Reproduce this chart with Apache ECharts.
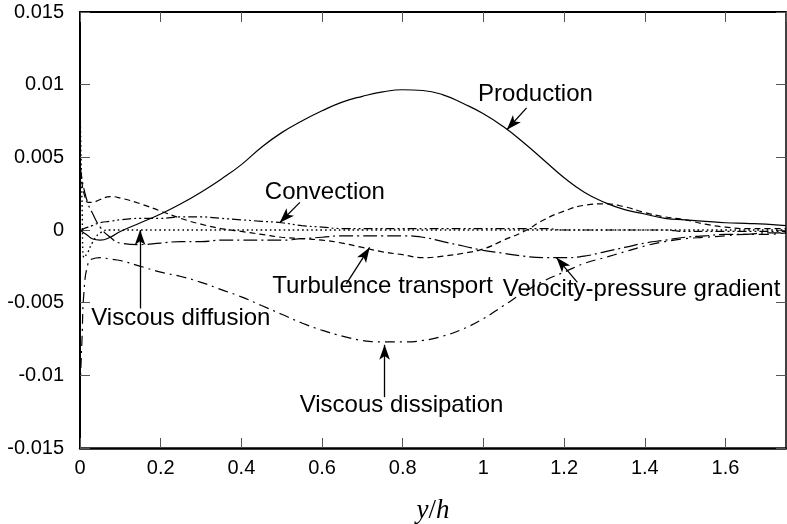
<!DOCTYPE html>
<html>
<head>
<meta charset="utf-8">
<script src="https://cdn.jsdelivr.net/npm/echarts@6/dist/echarts.min.js"></script>
<style>
  html, body { margin: 0; padding: 0; background: #fff; }
  #chart { width: 787px; height: 524px; }
</style>
</head>
<body>
<div id="chart"></div>
<script>
// wall distance y/h (shared by all budget terms)
const yh = [0, 0.005, 0.01, 0.02, 0.03, 0.05, 0.075,
  0.1, 0.15, 0.2, 0.25, 0.3, 0.35, 0.4, 0.45, 0.5, 0.55, 0.6, 0.65, 0.7, 0.75,
  0.8, 0.85, 0.9, 0.95, 1.0, 1.05, 1.1, 1.15, 1.2, 1.25, 1.3, 1.35, 1.4, 1.45,
  1.5, 1.55, 1.6, 1.65, 1.7, 1.75];

// budget terms
const production = [0, -0.0001, -0.0002, -0.0004, -0.0006, -0.0007, -0.0005,
  -0.0001, 0.0005, 0.0011, 0.0018, 0.0026, 0.0035, 0.0045, 0.0057, 0.0067, 0.0075, 0.0082, 0.0088, 0.0092, 0.0095,
  0.00965, 0.0096, 0.0093, 0.0087, 0.0080, 0.0071, 0.0060, 0.0048, 0.0036, 0.0026, 0.0019, 0.0014, 0.0011, 0.0008,
  0.0007, 0.0006, 0.0005, 0.00045, 0.0004, 0.0003];
const convection = [0, 0, 0.0001, 0.0002, 0.0003, 0.0005, 0.0006,
  0.0007, 0.0008, 0.0008, 0.0009, 0.0009, 0.0008, 0.0007, 0.0006, 0.0005, 0.0003, 0.0002, 0.0001, 0.0001, 0.0001,
  0.0001, 0.0001, 0.0001, 0.0001, 0.0001, 0.0001, 0.0001, 0.0001, 0, 0, 0, 0, 0, 0,
  -0.0001, -0.0001, -0.0001, -0.0001, -0.0001, -0.0001];
const turbTransport = [0.004, 0.0032, 0.0025, 0.0019, 0.0019, 0.0021, 0.0023,
  0.0022, 0.0018, 0.0013, 0.0008, 0.0004, 0.0001, -0.0001, -0.0003, -0.0005, -0.0006, -0.0007, -0.0009, -0.0012, -0.0015,
  -0.0017, -0.0019, -0.0018, -0.0016, -0.0013, -0.0007, -0.0001, 0.0007, 0.0013, 0.0017, 0.0018, 0.0016, 0.0012, 0.0009,
  0.0007, 0.0004, 0.0002, 0.0001, 0.0001, 0.0001];
const viscDiffusion = [0.009, 0.002, -0.0019, -0.0015, -0.0009, -0.0002, 0,
  0, 0, 0, 0, 0, 0, 0, 0, 0, 0, 0, 0, 0, 0,
  0, 0, 0, 0, 0, 0, 0, 0, 0, 0, 0, 0, 0, 0,
  0, 0, 0, 0, 0, 0];
const viscDissipation = [-0.011, -0.0075, -0.0042, -0.0023, -0.002, -0.0019, -0.002,
  -0.0021, -0.0025, -0.0029, -0.0032, -0.0036, -0.0041, -0.0046, -0.0052, -0.0058, -0.0064, -0.0069, -0.0073, -0.0076, -0.0077,
  -0.0077, -0.0076, -0.0073, -0.0068, -0.0061, -0.0052, -0.0043, -0.0035, -0.0029, -0.0023, -0.0019, -0.0015, -0.0011, -0.0008,
  -0.0006, -0.0005, -0.0004, -0.0003, -0.0003, -0.0002];
const velPressure = [0.0045, 0.0035, 0.0028, 0.0018, 0.0012, 0.0002, -0.0005,
  -0.0009, -0.001, -0.0009, -0.0008, -0.0008, -0.0007, -0.0007, -0.0007, -0.0007, -0.0006, -0.0005, -0.0004, -0.0004, -0.0004,
  -0.0004, -0.0005, -0.0008, -0.0011, -0.0014, -0.0016, -0.0018, -0.0019, -0.0019, -0.0018, -0.0015, -0.0012, -0.0009, -0.0007,
  -0.0005, -0.0004, -0.0003, -0.0003, -0.0002, -0.0002];

// annotation labels (data coords) and their arrows: [from, to]
const noteNames = ['Production', 'Convection', 'Turbulence transport', 'Viscous diffusion',
  'Velocity-pressure gradient', 'Viscous dissipation'];
const noteAt = [[1.129, 0.0093], [0.607, 0.0026], [0.750, -0.0039], [0.250, -0.0061],
  [1.392, -0.0041], [0.797, -0.0121]];
const noteArrows = [
  [[1.107, 0.0084], [1.058, 0.0069]],
  [[0.545, 0.0019], [0.495, 0.0005]],
  [[0.660, -0.0037], [0.718, -0.0012]],
  [[0.149, -0.0054], [0.149, 0.0]],
  [[1.233, -0.0036], [1.181, -0.0019]],
  [[0.755, -0.0115], [0.755, -0.0079]]
];

const FONT = 'Liberation Sans, Arial, Helvetica, sans-serif';

function pairs(vals) {
  return yh.map((x, i) => [x, vals[i]]);
}

function curve(name, vals, dash, width) {
  return {
    name: name,
    type: 'line',
    data: pairs(vals),
    smooth: 0.5,
    showSymbol: false,
    silent: true,
    lineStyle: { color: '#000', width: width || 1.2, type: dash }
  };
}

const myChart = echarts.init(document.getElementById('chart'), null, { renderer: 'canvas' });

const tickStyle = { show: true, inside: true, length: 10, lineStyle: { color: '#555', width: 1 } };

const option = {
  animation: false,
  backgroundColor: '#fff',
  grid: { left: 80, right: 1, top: 12, bottom: 76, containLabel: false, outerBoundsMode: 'none' },
  xAxis: [
    {
      type: 'value',
      min: 0,
      max: 1.75,
      interval: 0.2,
      name: '{i|y}{n|/}{i|h}',
      nameLocation: 'middle',
      nameGap: 49,
      nameTextStyle: {
        rich: {
          i: { fontFamily: 'Liberation Serif, DejaVu Serif, serif', fontStyle: 'italic', fontSize: 27, color: '#000' },
          n: { fontFamily: 'Liberation Serif, DejaVu Serif, serif', fontSize: 27, color: '#000' }
        }
      },
      axisLine: { show: true, onZero: false, lineStyle: { color: '#000', width: 2.5 } },
      axisTick: tickStyle,
      axisLabel: { fontFamily: FONT, fontSize: 20, color: '#000', margin: 10, showMaxLabel: false },
      splitLine: { show: false }
    },
    {
      type: 'value',
      position: 'top',
      min: 0,
      max: 1.75,
      interval: 0.2,
      axisLine: { show: true, onZero: false, lineStyle: { color: '#000', width: 2 } },
      axisTick: tickStyle,
      axisLabel: { show: false },
      splitLine: { show: false }
    }
  ],
  yAxis: [
    {
      type: 'value',
      min: -0.015,
      max: 0.015,
      interval: 0.005,
      axisLine: { show: true, onZero: false, lineStyle: { color: '#000', width: 2 } },
      axisTick: tickStyle,
      axisLabel: { fontFamily: FONT, fontSize: 20, color: '#000', margin: 16 },
      splitLine: { show: false }
    },
    {
      type: 'value',
      position: 'right',
      min: -0.015,
      max: 0.015,
      interval: 0.005,
      axisLine: { show: true, onZero: false, lineStyle: { color: '#000', width: 1.5 } },
      axisTick: tickStyle,
      axisLabel: { show: false },
      splitLine: { show: false }
    }
  ],
  series: [
    curve('Production', production, 'solid'),
    curve('Convection', convection, [9, 3, 2, 3, 2, 3]),
    curve('Turbulence transport', turbTransport, [6, 4]),
    curve('Viscous diffusion', viscDiffusion, [1.6, 3], 1.4),
    curve('Viscous dissipation', viscDissipation, [10, 5, 2, 5]),
    curve('Velocity-pressure gradient', velPressure, [14, 4, 2, 4]),
    {
      // annotations: text + arrows
      name: 'notes',
      type: 'line',
      data: [],
      silent: true,
      markPoint: {
        silent: true,
        symbol: 'circle',
        symbolSize: 0,
        label: {
          show: true,
          position: 'inside',
          formatter: '{b}',
          fontFamily: FONT,
          fontSize: 24,
          color: '#000'
        },
        data: noteNames.map((n, i) => ({ name: n, coord: noteAt[i] }))
      },
      markLine: {
        silent: true,
        animation: false,
        label: { show: false },
        lineStyle: { color: '#000', width: 1.3, type: 'solid' },
        emphasis: { disabled: true },
        data: noteArrows.map(a => [
          { coord: a[0], symbol: 'none' },
          { coord: a[1], symbol: 'arrow', symbolSize: [8, 15] }
        ])
      }
    }
  ]
};

myChart.setOption(option);
</script>
</body>
</html>
